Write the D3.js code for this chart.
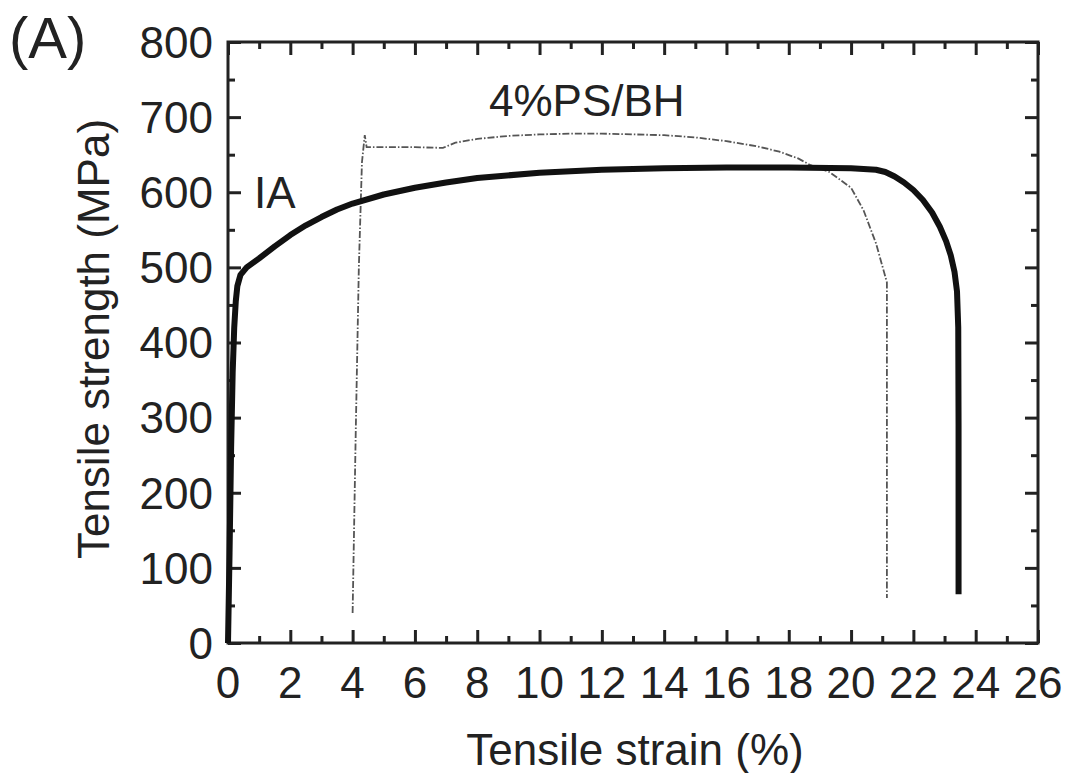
<!DOCTYPE html>
<html>
<head>
<meta charset="utf-8">
<script src="https://cdn.jsdelivr.net/npm/d3@7"></script>
<style>
  body { margin: 0; background: #fff; }
  svg text { font-family: "Liberation Sans", Arial, sans-serif; fill: #222; }
</style>
</head>
<body>
<svg id="chart"></svg>
<script>
// strain (%) / stress (MPa)
const iaStrain = [0, 0.05, 0.1, 0.15, 0.2, 0.25, 0.3, 0.4, 0.6, 1, 1.5, 2, 2.5, 3, 3.5, 4, 5, 6, 7, 8, 10, 12, 14, 16, 18, 20, 20.8, 21.1, 21.4, 21.7, 22, 22.3, 22.6, 22.85, 23.05, 23.2, 23.32, 23.4, 23.44, 23.45, 23.45];
const iaStress = [0, 120, 260, 360, 420, 455, 475, 490, 500, 512, 528, 543, 556, 567, 577, 585, 597, 606, 613, 619, 626, 630, 632, 633, 633, 632, 630, 627, 621, 613, 603, 590, 573, 554, 535, 516, 494, 468, 420, 290, 65];

const psStrain = [4, 4.1, 4.2, 4.3, 4.39, 4.45, 5, 6, 6.9, 7.3, 8, 9, 10, 11, 12, 13, 14, 15, 16, 17, 17.7, 18.3, 18.7, 19.3, 20, 20.4, 20.8, 21.05, 21.15, 21.15];
const psStress = [40, 280, 500, 640, 676, 660, 660, 660, 659, 666, 671, 675, 677, 678, 678, 677, 676, 673, 668, 661, 654, 645, 636, 627, 606, 576, 532, 495, 480, 60];

const xTicks = d3.range(0, 27, 2);
const yTicks = d3.range(0, 801, 100);

const width = 1069, height = 773;
const margin = {left: 228, right: 31, top: 42, bottom: 130};

const svg = d3.select('#chart')
  .attr('width', width)
  .attr('height', height);

const x = d3.scaleLinear().domain([0, 26]).range([margin.left, width - margin.right]);
const y = d3.scaleLinear().domain([0, 800]).range([height - margin.bottom, margin.top]);

const axisColor = '#222';

// inward ticks on all four sides
function ticks(g, axis, offset) {
  g.attr('transform', offset).call(axis);
  g.select('.domain').remove();
  g.selectAll('line').attr('stroke', axisColor).attr('stroke-width', 3);
  g.selectAll('text').remove();
}

const xMinor = d3.range(1, 26, 2);
const yMinor = d3.range(50, 800, 100);

[[d3.axisBottom(x).tickValues(xTicks).tickSize(-13), `translate(0,${y(0)})`],
 [d3.axisBottom(x).tickValues(xMinor).tickSize(-7), `translate(0,${y(0)})`],
 [d3.axisTop(x).tickValues(xTicks).tickSize(-13), `translate(0,${y(800)})`],
 [d3.axisTop(x).tickValues(xMinor).tickSize(-7), `translate(0,${y(800)})`],
 [d3.axisLeft(y).tickValues(yTicks).tickSize(-13), `translate(${x(0)},0)`],
 [d3.axisLeft(y).tickValues(yMinor).tickSize(-7), `translate(${x(0)},0)`],
 [d3.axisRight(y).tickValues(yTicks).tickSize(-13), `translate(${x(26)},0)`],
 [d3.axisRight(y).tickValues(yMinor).tickSize(-7), `translate(${x(26)},0)`]
].forEach(([axis, offset]) => ticks(svg.append('g'), axis, offset));

svg.append('rect')
  .attr('x', x(0))
  .attr('y', y(800))
  .attr('width', x(26) - x(0))
  .attr('height', y(0) - y(800))
  .attr('fill', 'none')
  .attr('stroke', axisColor)
  .attr('stroke-width', 3);

// tick labels
svg.append('g').selectAll('text')
  .data(xTicks)
  .join('text')
  .attr('x', d => x(d))
  .attr('y', 698)
  .attr('text-anchor', 'middle')
  .attr('font-size', 44)
  .text(d => d);

svg.append('g').selectAll('text')
  .data(yTicks)
  .join('text')
  .attr('x', 213)
  .attr('y', d => y(d))
  .attr('dy', '0.36em')
  .attr('text-anchor', 'end')
  .attr('font-size', 44)
  .text(d => d);

// axis titles
svg.append('text')
  .attr('x', (x(0) + x(26)) / 2 + 2)
  .attr('y', 765)
  .attr('text-anchor', 'middle')
  .attr('font-size', 44)
  .text('Tensile strain (%)');

svg.append('text')
  .attr('transform', 'translate(109,339) rotate(-90)')
  .attr('text-anchor', 'middle')
  .attr('font-size', 44)
  .text('Tensile strength (MPa)');

// curves
const line = d3.line()
  .x(d => x(d[0]))
  .y(d => y(d[1]));

svg.append('path')
  .datum(psStrain.map((s, i) => [s, psStress[i]]))
  .attr('d', line)
  .attr('fill', 'none')
  .attr('stroke', '#555')
  .attr('stroke-width', 1.8)
  .attr('stroke-dasharray', '7,2,1.5,2');

svg.append('path')
  .datum(iaStrain.map((s, i) => [s, iaStress[i]]))
  .attr('d', line)
  .attr('fill', 'none')
  .attr('stroke', '#111')
  .attr('stroke-width', 6)
  .attr('stroke-linejoin', 'round');

// labels
svg.append('text')
  .attr('x', 254)
  .attr('y', 208)
  .attr('font-size', 44)
  .text('IA');

svg.append('text')
  .attr('x', 489)
  .attr('y', 116)
  .attr('font-size', 44)
  .text('4%PS/BH');

svg.append('text')
  .attr('x', 9)
  .attr('y', 58)
  .attr('font-size', 58)
  .text('(A)');
</script>
</body>
</html>
